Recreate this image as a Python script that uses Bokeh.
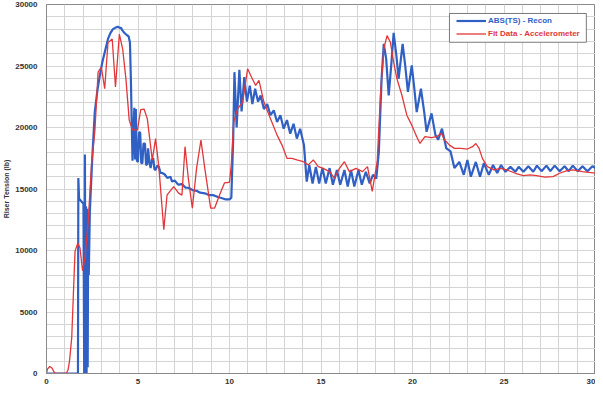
from bokeh.plotting import figure
from bokeh.models import (Range1d, FixedTicker, Legend, LegendItem, BoxAnnotation, Label)
from bokeh.embed import file_html
from bokeh.resources import INLINE

# ---------------- data ----------------
x_ticks = [0, 5, 10, 15, 20, 25, 30]
y_ticks = [0, 5000, 10000, 15000, 20000, 25000, 30000]

blue_label = "ABS(TS) - Recon"
red_label = "Fit Data - Accelerometer"
x_label = "Time"
y_label = "Riser Tension (lb)"

blue_t = [0, 1.72, 1.74, 1.78, 1.9, 2.02, 2.06, 2.1, 2.13, 2.16, 2.19, 2.22, 2.25, 2.28, 2.31,
          2.37, 2.5, 2.64, 2.78, 2.91, 3.05, 3.18, 3.36, 3.5, 3.63, 3.75, 3.9, 4.0, 4.07, 4.15,
          4.25, 4.4, 4.49, 4.56, 4.61, 4.66, 4.7, 4.76, 4.8, 4.84, 4.88, 4.94, 5.0, 5.06, 5.12,
          5.18, 5.24, 5.3, 5.38, 5.44, 5.5, 5.55, 5.62, 5.69, 5.76, 5.83, 5.9, 5.96, 6.05, 6.14,
          6.23, 6.32, 6.45, 6.6, 6.77, 6.86, 7.0, 7.2, 7.4, 7.6, 7.75, 8.0, 8.2, 8.4, 8.65, 8.9,
          9.1, 9.37, 9.6, 9.8, 10.0, 10.1, 10.2, 10.27, 10.39, 10.54, 10.66, 10.81, 10.95, 11.11,
          11.25, 11.4, 11.56, 11.7, 11.88, 12.06, 12.24, 12.42, 12.6, 12.78, 12.96, 13.14, 13.32,
          13.5, 13.68, 13.86, 14.07, 14.22, 14.36, 14.54, 14.72, 14.9, 15.08, 15.26, 15.47, 15.65,
          15.87, 16.05, 16.28, 16.46, 16.64, 16.82, 17.05, 17.23, 17.45, 17.66, 17.84, 18.02,
          18.16, 18.31, 18.43, 18.56, 18.7, 18.85, 18.97, 19.12, 19.24, 19.46, 19.6, 19.75, 19.96,
          20.1, 20.23, 20.46, 20.64, 20.77, 21.04, 21.25, 21.4, 21.61, 21.85, 22.08, 22.29, 22.56,
          22.8, 23.0, 23.19, 23.46, 23.69, 23.9, 24.17, 24.4, 24.63, 24.84, 25.08, 25.35, 25.62,
          25.8, 26.06, 26.33, 26.6, 26.8, 27.05, 27.32, 27.53, 27.77, 28.04, 28.31, 28.54, 28.76,
          29.03, 29.29, 29.56, 29.83, 30.0]
blue_v = [0, 0, 15900, 14200, 14000, 13800, 0, 17800, 0, 13600, 0, 13400, 500, 13000, 8000,
          13200, 17500, 21300, 23000, 24200, 25300, 26100, 27200, 27700, 28000, 28100, 28200,
          28100, 28100, 27900, 27700, 27500, 27400, 26900, 24000, 20200, 17300, 20100, 21600,
          17400, 21500, 17300, 17200, 19600, 19600, 17100, 17100, 18700, 18700, 16950, 17000,
          18300, 17200, 16700, 17400, 17500, 16600, 16550, 16900, 16800, 16300, 16300, 16200,
          15900, 16000, 15600, 15700, 15350, 15400, 15100, 15100, 14900, 14850, 14700, 14650,
          14500, 14500, 14350, 14250, 14150, 14150, 14300, 19000, 24500, 20000, 24700, 21300,
          24100, 22100, 23400, 21900, 23150, 22100, 22600, 21500, 21900, 21000, 21400, 20450,
          21000, 19900, 20600, 19500, 20300, 19100, 19900, 18550, 15600, 16950, 15450, 16800,
          15450, 16700, 15450, 16700, 15350, 16550, 15350, 16550, 15200, 16550, 15200, 16550,
          15350, 16400, 15450, 16150, 15850, 18000, 23950, 26800, 25600, 22600, 25300, 27700,
          25850, 23950, 26800, 25050, 22900, 25050, 23150, 21250, 23150, 21250, 19650, 21150,
          19400, 19000, 19900, 18300, 18050, 16700, 17200, 16150, 17350, 16000, 17200, 16000,
          17100, 16150, 16950, 16300, 16950, 16400, 16800, 16400, 16800, 16400, 16850, 16400,
          16900, 16450, 16900, 16450, 16900, 16450, 16850, 16450, 16900, 16450, 16850, 16450,
          16850, 16700]

red_t = [0, 0.05, 0.18, 0.3, 0.4, 0.48, 1.08, 1.18, 1.26, 1.38, 1.47, 1.56, 1.71, 1.83, 1.97,
         2.1, 2.28, 2.46, 2.64, 2.82, 3.0, 3.18, 3.36, 3.59, 3.77, 3.98, 4.16, 4.34, 4.52, 4.7,
         4.97, 5.15, 5.33, 5.51, 5.78, 5.96, 6.14, 6.41, 6.59, 6.95, 7.22, 7.4, 7.57, 7.75, 7.97,
         8.2, 8.44, 8.65, 8.97, 9.19, 9.46, 9.73, 10.0, 10.1, 10.23, 10.45, 10.72, 10.99, 11.16,
         11.43, 11.61, 11.88, 12.24, 12.6, 12.87, 13.14, 13.41, 13.68, 14.04, 14.3, 14.58, 14.85,
         15.12, 15.47, 15.74, 16.01, 16.28, 16.55, 16.91, 17.27, 17.54, 17.8, 18.07, 18.25, 18.43,
         18.61, 18.79, 18.97, 19.15, 19.42, 19.69, 19.96, 20.23, 20.41, 20.68, 21.04, 21.31,
         21.58, 21.76, 22.02, 22.29, 22.65, 23.0, 23.28, 23.46, 23.64, 23.82, 24.09, 24.45,
         24.81, 25.16, 25.62, 26.06, 26.42, 26.78, 27.23, 27.68, 28.04, 28.4, 28.76, 29.29, 30.0]
red_v = [0, 350, 570, 450, 150, 0, 0, 300, 1050, 2940, 6500, 9950, 10600, 10200, 8350, 9400,
         12400, 17000, 19650, 24500, 24900, 23150, 26900, 27200, 23300, 27600, 26400, 23950,
         20600, 19800, 19800, 21450, 21500, 20700, 17350, 19100, 16800, 11700, 14530, 15200,
         14660, 14500, 18440, 15870, 13450, 16680, 18980, 16680, 13450, 13450, 14530, 15500,
         15550, 17000, 20460, 21530, 22070, 24770, 24230, 23420, 23830, 22070, 20720, 19380,
         18570, 17490, 17490, 17360, 17220, 16960, 17360, 16820, 16680, 16410, 15870, 16680,
         17220, 16410, 16680, 16410, 16820, 14800, 17220, 22620, 26390, 27470, 26930, 25310,
         23960, 22620, 21000, 20190, 19250, 18700, 19250, 19180, 19250, 19520, 18980, 18570,
         18300, 18300, 18250, 18440, 18700, 18300, 17490, 16820, 16550, 16680, 16550, 16280,
         16090, 16150, 16090, 15960, 16010, 16280, 16470, 16550, 16410, 16280]

BLUE = "#3160c4"
RED = "#e2373a"
GRID = "#d4d4d4"
FONT = "Liberation Sans"

p = figure(width=595, height=390, output_backend="svg", toolbar_location=None,
           x_range=Range1d(0, 30), y_range=Range1d(0, 30000),
           min_border_left=38, min_border_right=0, min_border_top=4, min_border_bottom=17)
p.background_fill_color = "white"
p.border_fill_color = "white"
p.outline_line_color = "#8a8a8a"
p.outline_line_width = 1

p.xaxis.ticker = FixedTicker(ticks=x_ticks, minor_ticks=list(range(0, 31)))
p.yaxis.ticker = FixedTicker(ticks=y_ticks, minor_ticks=list(range(0, 30001, 1000)))

for ax in (p.xaxis, p.yaxis):
    ax.major_tick_line_color = None
    ax.minor_tick_line_color = None
    ax.major_tick_out = 0
    ax.major_tick_in = 0
    ax.axis_line_color = "#8a8a8a"
    ax.major_label_text_font = FONT
    ax.major_label_text_font_size = "8px"
    ax.major_label_text_font_style = "bold"
    ax.major_label_text_color = "#333333"
    ax.major_label_standoff = 1

p.yaxis.axis_label = y_label
p.yaxis.axis_label_text_font = FONT
p.yaxis.axis_label_text_font_size = "7px"
p.yaxis.axis_label_text_font_style = "bold"
p.yaxis.axis_label_text_color = "#333333"
p.yaxis.axis_label_standoff = 2
p.yaxis.major_label_standoff = 5

for g in (p.xgrid, p.ygrid):
    g.grid_line_color = GRID
    g.minor_grid_line_color = GRID
    g.grid_line_width = 1
    g.minor_grid_line_width = 1

r_blue = p.line(blue_t, blue_v, line_color=BLUE, line_width=2.2)
r_red = p.line(red_t, red_v, line_color=RED, line_width=1.3)

box = BoxAnnotation(left=22.02, right=29.5, bottom=26930, top=29270,
                    fill_color="white", fill_alpha=1.0, line_color="#7a7a7a", line_width=1,
                    line_alpha=1.0)
p.add_layout(box)

def make_leg(label, rend, color, loc):
    leg = Legend(items=[LegendItem(label=label, renderers=[rend])], location=loc,
                 padding=0, margin=0, spacing=0, label_height=13, glyph_height=13,
                 glyph_width=30, label_standoff=2,
                 label_text_font=FONT, label_text_font_size="8px",
                 label_text_font_style="bold", label_text_color=color,
                 background_fill_alpha=0, border_line_alpha=0)
    return leg

p.add_layout(make_leg(blue_label, r_blue, BLUE, (410, 346)), "center")
p.add_layout(make_leg(red_label, r_red, RED, (410, 333)), "center")

p.add_layout(Label(x=15, y=-720, text=x_label, text_align="center", text_baseline="top",
                   text_font=FONT, text_font_size="7px", text_font_style="bold",
                   text_color="#333333"))

open("out.html", "w").write(file_html(p, INLINE))
